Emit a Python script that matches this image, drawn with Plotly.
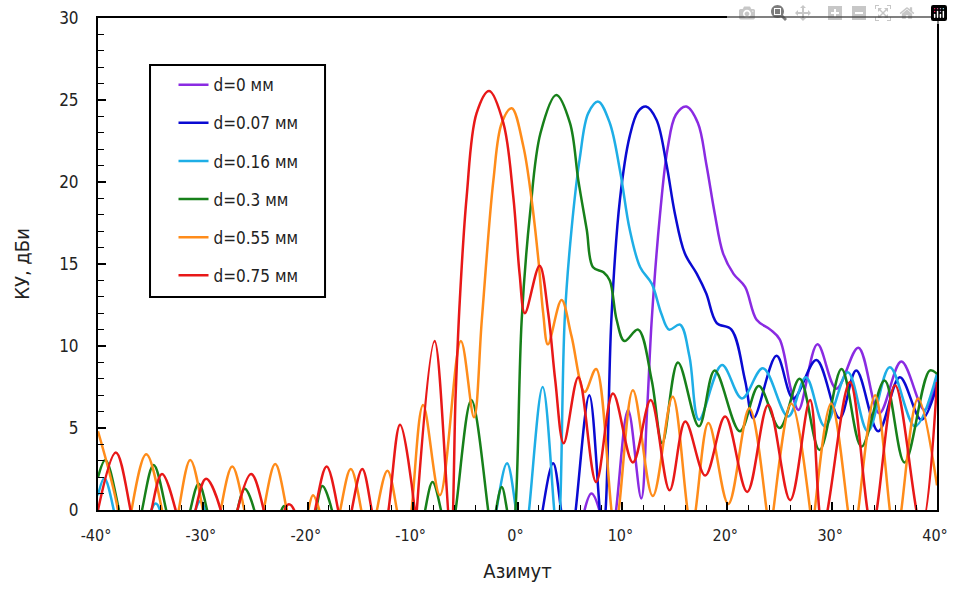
import plotly.graph_objects as go

N = None

# d = 0 mm
x_d0 = [5.8, 6.4, 7.05, 7.8, 8.6, 9.4, 10.55, 11.8, 12.35, 12.8, 13.6, 14.3, 15.1, 16.1, 17.2, 18.0,
        18.8, 19.6, 20.6, 21.7, 22.8, 24.1, 25.0, 26.1, 26.8, 28.6, 30.4, 32.5, 34.5, 36.6, 38.8, 40]
y_d0 = [-4, 0, 1.0, 0, -4, 0, 6.1, 0.7, 6, 11.6, 18.1, 22.0, 24.1, 24.6, 23.6, 21.1,
        18.1, 15.65, 14.4, 13.6, 11.6, 11.0, 10.4, 7.3, 6.1, 10.1, 7.4, 9.9, 5.9, 9.05, 6.1, 8.2]

# d = 0.07 mm
x_d007 = [1.8, 2.4, 3.4, 4.15, 4.85, 5.55, 6.85, 7.85, 8.12, 8.4, 8.95, 9.76, 10.7, 11.5, 12.25, 13.25,
          14.2, 15.0, 15.95, 17.1, 18.0, 19.0, 20.4, 21.7, 22.5, 24.7, 26.3, 28.5, 30.7, 32.3, 34.4,
          36.45, 38.5, 40]
y_d007 = [-4, 0, 2.85, 0, -4, 0, 7.0, 0, -1.5, 0, 11.6, 18.9, 22.8, 24.3, 24.6, 23.8,
          21.1, 18.1, 15.65, 14.4, 13.2, 11.4, 11.0, 7.9, 5.6, 9.4, 6.8, 9.15, 5.6, 8.5, 4.8,
          8.1, 5.5, 7.6]

# d = 0.16 mm
x_d016 = [-40, -39.4, -38.5, -37.6, N,
          -35.3, -34.9, -34.5, -34.1, -33.7, N,
          -31.1, -30.7, -30.2, -29.8, -29.4, N,
          -2.5, -2.0, -1.0, -0.15, 0.45, 1.1, 2.4, 3.5, 3.78, 4.05, 4.5, 5.15, 5.95, 6.75, 7.7,
          8.8, 9.8, 10.7, 11.7, 12.8, 13.7, 14.45, 15.5, 16.4, 17.3, 19.5, 21.4, 23.4, 25.8,
          27.5, 29.3, 31.5, 33.4, 35.5, 37.9, 40]
y_d016 = [0.9, 1.93, 0, -4, N,
          -3, 0, 0.4, 0, -3, N,
          -3, 0, 0.57, 0, -3, N,
          -3, 0, 2.85, 0, -4, 0, 7.5, 0, -2, 0, 11.6, 17.1, 21.5, 24.2, 24.9,
          23.6, 20.6, 17.1, 14.8, 13.8, 12.0, 11.0, 11.3, 9.35, 5.5, 8.84, 6.8, 8.64, 5.7,
          8.1, 5.1, 8.4, 4.8, 8.7, 5.1, 8.3]

# d = 0.3 mm
x_d03 = [-40, -39.3, -38.0, -36.9, -35.8, -34.7, -33.5, -32.35, -31.2, -30.4, -29.6, -28.6, N,
         -27.1, -26.7, -26.0, -25.1, -24.7, N,
         -22.7, -22.5, -22.25, -22.0, -21.8, N,
         -19.6, -19.2, -18.6, -17.7, -17.3, N,
         -9.2, -8.8, -8.1, -7.3, -6.6, -5.9, -4.4, -2.8, -2.42, -2.05, -1.5, -1.0, -0.6, -0.2,
         0.4, 1.2, 2.2, 3.7, 5.0, 5.8, 6.6, 7.2, 8.2, 8.8, 9.45, 10.2, 11.5, 12.8, 13.8, 15.3,
         17.3, 18.8, 21.2, 23.0, 25.0, 26.9, 28.8, 30.9, 32.8, 35.0, 36.9, 39.3, 40]
y_d03 = [2.0, 3.05, 0, -4, 0, 2.75, 0, -4, 0, 1.6, 0, -4, N,
         -2, 0, 1.3, 0, -2, N,
         -1, 0, 0.25, 0, -1, N,
         -2, 0, 1.46, 0, -2, N,
         -2, 0, 1.7, 0, -3, 0, 6.7, 0, -2, 0, 1.4, 0, -2, 0,
         11.6, 18.1, 23.0, 25.3, 23.6, 20.1, 17.1, 14.8, 14.5, 14.0, 11.6, 10.3, 11.0, 7.9, 4.07, 9.0,
         5.1, 8.5, 4.8, 7.56, 5.0, 8.0, 3.66, 8.6, 3.86, 7.9, 2.9, 8.5, 8.3]

# d = 0.55 mm
x_d055 = [-40, -38.1, -37.45, -36.8, -35.4, -33.9, -33.1, -32.3, -31.2, -30.0, -29.15, -28.3, -27.2,
          -26.05, -25.1, -24.2, -23.1, -22.0, -21.0, -19.95, -19.5, -18.9, -17.9, -16.9, -15.9,
          -14.9, -14.15, -13.4, -12.4, -11.5, -10.8, -10.1, -9.0, -7.4, -5.4, -4.15, -3.4, -2.3,
          -1.5, -0.55, 0.55, 1.35, 2.0, 2.45, 2.9, 4.2, 5.15, 6.4, 7.5, 9.3, 11.0, 12.9, 14.8,
          16.6, 18.2, 20.1, 22.1, 23.75, 24.07, 24.4, 26.1, 27.9, 28.12, 28.35, 29.9, 31.5, 32.0,
          32.5, 34.1, 35.5, 36.05, 36.6, 38.2, 40]
y_d055 = [4.8, 0, -4, 0, 3.4, 0, -4, 0, 3.05, 0, -4, 0, 2.65,
          0, -4, 0, 2.8, 0, -4, 0, 0.9, 0, -4, 0, 2.5,
          0, -4, 0, 2.4, 0, -4, 0, 6.4, 0.9, 10.3, 5.65, 11.6, 20.1,
          23.6, 24.5, 22.2, 18.9, 15.2, 12.0, 10.1, 12.8, 10.6, 7.2, 8.6, -1, 7.3, 0.85, 6.9,
          -1, 5.3, 0.37, 6.2, 0, -2, 0, 6.5, 0, -2, 0, 6.5, 0, -3,
          0, 7.0, 0, -3, 0, 6.8, 1.5]

# d = 0.75 mm
x_d075 = [-40, -38.3, -36.9, -35.9, -34.9, -33.9, -32.6, -31.6, -30.7, -29.7, -28.3, -27.5, -26.7,
          -25.4, -24.2, -23.2, -22.2, -21.8, -21.3, -20.3, -19.3, -18.2, -17.1, -16.45, -15.8,
          -14.8, -13.9, -13.1, -12.3, -11.2, -9.8, -9.7, -9.6, -7.9, -6.35, -5.9, -5.5, -4.85,
          -3.9, -2.7, -1.35, -0.4, 0.2, 0.7, 2.1, 2.93, 3.6, 4.4, 5.8, 7.5, 9.1, 11.0, 12.7,
          14.5, 16.0, 17.9, 19.8, 21.9, 23.9, 26.0, 27.9, 29.1, 31.7, 33.8, 36.0, 38.5, 40]
y_d075 = [0, 3.5, 0, -4, 0, 2.2, 0, -4, 0, 1.9, 0, -4, 0,
          2.2, 0, -5, 0, 0.35, 0, -4, 0, 2.65, 0, -3, 0,
          2.5, 0, -3, 0, 5.2, 0, -1.5, 0, 10.3, -1.5, 7, 12.8, 19.1,
          24.2, 25.55, 23.6, 19.1, 14.4, 12.0, 14.9, 12.0, 7.9, 4.07, 8.1, 1.7, 7.1, 2.9, 6.7,
          1.2, 5.4, 2.1, 5.7, 1.1, 6.4, 0.6, 6.7, -1, 7.8, -1, 7.6, -1, 7.8]

series = [
    ("d=0 мм", x_d0, y_d0, "#8a2be2"),
    ("d=0.07 мм", x_d007, y_d007, "#0a0ad2"),
    ("d=0.16 мм", x_d016, y_d016, "#1eaee6"),
    ("d=0.3 мм", x_d03, y_d03, "#17801a"),
    ("d=0.55 мм", x_d055, y_d055, "#ff8c1a"),
    ("d=0.75 мм", x_d075, y_d075, "#e81818"),
]

x_ticks = [-40, -30, -20, -10, 0, 10, 20, 30, 40]
x_tick_labels = ["-40°", "-30°", "-20°", "-10°", "0°", "10°", "20°", "30°", "40°"]
y_ticks = [0, 5, 10, 15, 20, 25, 30]

FONT = "DejaVu Sans Condensed, Liberation Sans Narrow, sans-serif"

fig = go.Figure()
for i, (name, xs, ys, col) in enumerate(series):
    fig.add_trace(go.Scatter(
        x=xs, y=ys, name=name, mode="lines", legendgroup=f"g{i}",
        line=dict(color=col, width=2.5, shape="spline", smoothing=1.0),
        connectgaps=False,
    ))

# legend frame
fig.add_shape(type="rect", xref="paper", yref="paper",
              x0=0.062, x1=0.2706, y0=0.433, y1=0.9045,
              line=dict(color="black", width=2), fillcolor="white", layer="above")

fig.update_layout(
    width=953, height=591,
    margin=dict(l=98, r=16, t=18, b=81),
    paper_bgcolor="white", plot_bgcolor="white",
    font=dict(family=FONT, size=17, color="#222"),
    showlegend=True,
    legend=dict(
        x=0.09, y=0.9, xanchor="left", yanchor="top",
        borderwidth=0, bgcolor="rgba(0,0,0,0)",
        font=dict(family=FONT, size=17, color="#222"),
        traceorder="grouped", tracegroupgap=13,
    ),
    xaxis=dict(
        range=[-40, 40], tickmode="array", tickvals=x_ticks, ticktext=x_tick_labels,
        ticks="inside", ticklen=8, tickwidth=1.5, tickcolor="black",
        minor=dict(dtick=2, ticks="inside", ticklen=5, tickcolor="black", tickwidth=1.2),
        showline=True, linecolor="black", linewidth=2, mirror=True,
        showgrid=False, zeroline=False, ticklabelstandoff=10, automargin=False,
        ticklabeloverflow="allow", ticklabelshift=-2, tickfont=dict(size=16),
        title=dict(text="Азимут", font=dict(family=FONT, size=20), standoff=20),
    ),
    yaxis=dict(
        range=[0, 30], tickmode="array", tickvals=y_ticks,
        ticks="inside", ticklen=8, tickwidth=1.5, tickcolor="black",
        minor=dict(dtick=1, ticks="inside", ticklen=6, tickcolor="black", tickwidth=1.2),
        showline=True, linecolor="black", linewidth=2, mirror=True,
        showgrid=False, zeroline=False, ticklabelstandoff=14, automargin=False,
        ticklabeloverflow="allow",
        title=dict(text="КУ, дБи", font=dict(family=FONT, size=20), standoff=24),
    ),
)

fig.write_html(
    "out.html",
    post_script="document.body.style.margin='0px';document.body.style.overflow='hidden';",
)
